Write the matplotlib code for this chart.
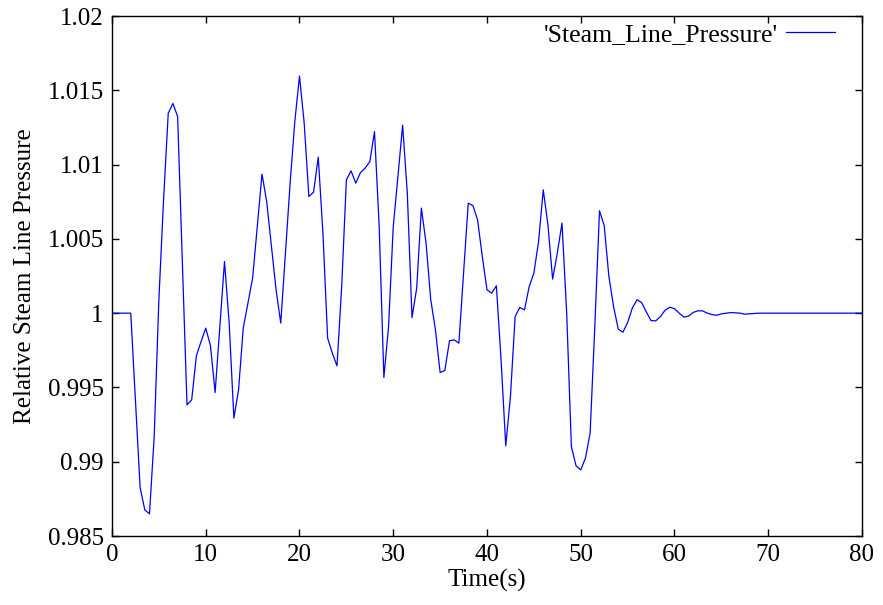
import matplotlib
matplotlib.use("Agg")
import matplotlib.pyplot as plt

time_s = [0, 2, 3, 3.5, 4, 4.5, 5, 5.5, 6, 6.5, 7, 8, 8.5, 9, 9.5, 10, 10.5, 11, 12, 12.5,
          13, 13.5, 14, 15, 16, 16.5, 17.5, 18, 19, 19.5, 20, 20.5, 21, 21.5, 22, 22.5,
          23, 23.5, 24, 24.5, 25, 25.5, 26, 26.5, 27, 27.5, 28, 28.5, 29, 29.5, 30, 30.5,
          31, 31.5, 32, 32.5, 33, 33.5, 34, 34.5, 35, 35.5, 36, 36.5, 37, 38, 38.5, 39,
          39.5, 40, 40.5, 41, 41.5, 42, 42.5, 43, 43.5, 44, 44.5, 45, 45.5, 46, 46.5, 47,
          47.5, 48, 48.5, 49, 49.5, 50, 50.5, 51, 51.5, 52, 52.5, 53, 53.5, 54, 54.5, 55,
          55.5, 56, 56.5, 57, 57.5, 58, 58.5, 59, 59.5, 60, 60.5, 61, 61.5, 62, 62.5, 63,
          63.5, 64, 64.5, 65, 66, 67, 67.5, 69, 70, 80]
pressure = [1.0, 1.0, 0.98826, 0.98676, 0.98649, 0.99169, 1.0009, 1.00763, 1.01346, 1.01411,
            1.01323, 0.99383, 0.99416, 0.99713, 0.99809, 0.99899, 0.99782, 0.99466, 1.00347, 0.99933,
            0.99293, 0.99484, 0.99899, 1.00236, 1.00936, 1.00751, 1.00157, 0.99933, 1.00875, 1.0129,
            1.01596, 1.01279, 1.00785, 1.00814, 1.0105, 1.00538, 0.99832, 0.99731, 0.99645, 1.00179,
            1.00897, 1.00958, 1.00875, 1.00946, 1.00976, 1.0102, 1.01222, 1.00583, 0.99567, 0.9991,
            1.00583, 1.0092, 1.01265, 1.00808, 0.9997, 1.00168, 1.00707, 1.00471, 1.0009, 0.99888,
            0.9960, 0.99614, 0.99814, 0.9982, 0.99798, 1.0074, 1.00724, 1.00626, 1.00381, 1.00157,
            1.00135, 1.00184, 0.99686, 0.99107, 0.99439, 0.99977, 1.00038, 1.00022, 1.00179, 1.00269,
            1.00482, 1.0083, 1.00594, 1.00229, 1.00404, 1.00606, 1.0, 0.99102, 0.98972, 0.98945,
            0.99024, 0.99192, 0.9991, 1.00689, 1.0059, 1.00247, 1.00045, 0.99892, 0.99872, 0.99937,
            1.00034, 1.0009, 1.00071, 1.00007, 0.9995, 0.99948, 0.99977, 1.0002, 1.0004, 1.0003,
            1.0, 0.99973, 0.9998, 1.00005, 1.00016, 1.00015, 1.0, 0.9999, 0.99986, 0.99995,
            1.00004, 1.0, 0.99993, 1.0, 1.0, 1.0]

x_ticks = [0, 10, 20, 30, 40, 50, 60, 70, 80]
y_ticks = [0.985, 0.99, 0.995, 1.0, 1.005, 1.01, 1.015, 1.02]
y_tick_labels = ['0.985', '0.99', '0.995', '1', '1.005', '1.01', '1.015', '1.02']

plt.rcParams['font.family'] = ['Liberation Serif', 'DejaVu Serif']
plt.rcParams['font.size'] = 18

fig = plt.figure(figsize=(8.83, 6.05), dpi=100)
ax = fig.add_axes([112/883, 1 - 536/605, (862-112)/883, (536-16)/605])
ax.plot(time_s, pressure, color='#0000ff', linewidth=0.9, label="'Steam_Line_Pressure'")
ax.set_xlim(0, 80)
ax.set_ylim(0.985, 1.02)
ax.set_xticks(x_ticks)
ax.set_xticklabels([str(t) for t in x_ticks])
ax.set_yticks(y_ticks)
ax.set_yticklabels(y_tick_labels)
ax.tick_params(direction='in', top=True, right=True, length=5, width=1, labelsize=18, pad=6)
for s in ax.spines.values():
    s.set_linewidth(1)
ax.set_xlabel('Time(s)', fontsize=18, labelpad=2)
ax.set_ylabel('Relative Steam Line Pressure', fontsize=18, labelpad=8)
ax.legend(loc='upper right', bbox_to_anchor=(1 - 12/750, 1 + 8/520), frameon=False,
          markerfirst=False, handlelength=1.9, prop={'size': 18.5},
          borderaxespad=0.2, handletextpad=0.3)
fig.savefig('out.png', dpi=100)
